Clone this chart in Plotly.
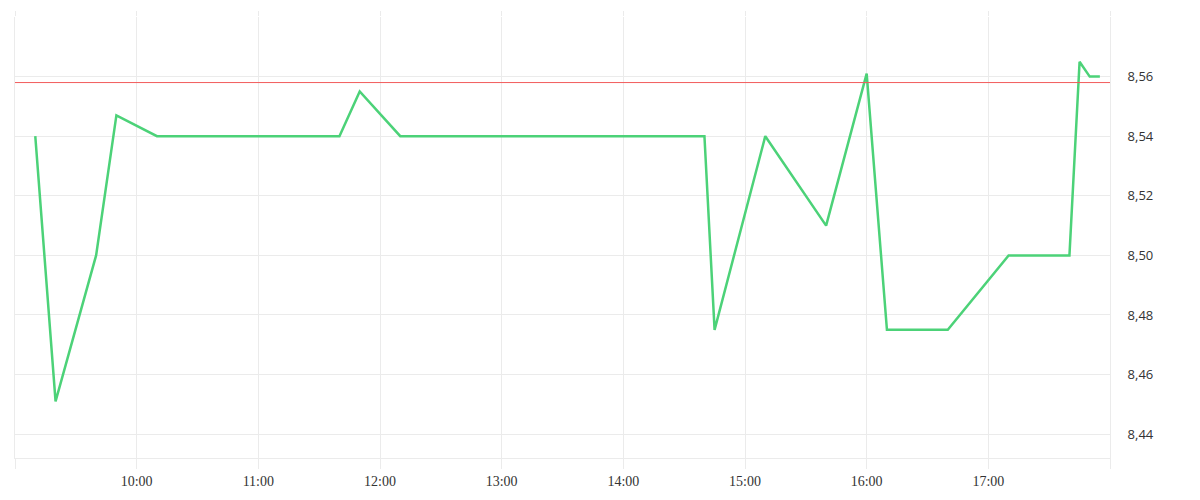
import plotly.graph_objects as go

day = "2024-01-02 "
times = ["09:10", "09:20", "09:40", "09:50", "10:10", "11:40", "11:50", "12:10",
         "14:40", "14:45", "15:10", "15:40", "16:00", "16:10", "16:40", "17:10",
         "17:40", "17:45", "17:50", "17:55"]
prices = [8.54, 8.451, 8.50, 8.547, 8.54, 8.54, 8.555, 8.54,
          8.54, 8.475, 8.54, 8.51, 8.561, 8.475, 8.475, 8.50,
          8.50, 8.565, 8.56, 8.56]
ref_price = 8.558

hour_ticks = ["09:00", "10:00", "11:00", "12:00", "13:00", "14:00", "15:00",
              "16:00", "17:00", "18:00"]
hour_labels = ["", "10:00", "11:00", "12:00", "13:00", "14:00", "15:00",
               "16:00", "17:00", ""]
y_ticks = [8.44, 8.46, 8.48, 8.50, 8.52, 8.54, 8.56, 8.58]
y_labels = ["8,44", "8,46", "8,48", "8,50", "8,52", "8,54", "8,56", ""]
y_range = [8.432, 8.58]

x = [day + t for t in times]
xt = [day + t for t in hour_ticks]
grid = "#ebebeb"

fig = go.Figure()
fig.add_trace(go.Scatter(x=x, y=prices, mode="lines",
                         line=dict(color="#4cd278", width=2.5),
                         hoverinfo="skip", showlegend=False))
# invisible trace so the top tick axis is drawn
fig.add_trace(go.Scatter(x=[xt[0], xt[-1]], y=y_range, mode="lines",
                         line=dict(width=0), xaxis="x2", yaxis="y",
                         hoverinfo="skip", showlegend=False, opacity=0))
fig.add_hline(y=ref_price, line=dict(color="#f25c5c", width=1))

fig.update_layout(
    width=1200, height=500,
    margin=dict(l=7, r=98, t=9, b=50),
    paper_bgcolor="white", plot_bgcolor="white",
    showlegend=False,
    xaxis=dict(range=[xt[0], xt[-1]], tickvals=xt, ticktext=hour_labels,
               showgrid=True, gridcolor=grid, gridwidth=1,
               ticks="outside", ticklen=10, tickcolor=grid, tickwidth=1,
               showline=True, linecolor=grid, linewidth=1,
               zeroline=False, automargin=False,
               tickfont=dict(family="Liberation Serif", size=14, color="#333")),
    xaxis2=dict(range=[xt[0], xt[-1]], overlaying="x", side="top",
                tickvals=xt, ticktext=["" for _ in xt], automargin=False,
                showgrid=False, ticks="outside", ticklen=5, tickcolor=grid,
                tickwidth=1, showline=False, zeroline=False),
    yaxis=dict(range=y_range, side="right", tickvals=y_ticks, ticktext=y_labels,
               showgrid=True, gridcolor=grid, gridwidth=1, zeroline=False,
               showline=True, mirror=True, linecolor=grid, linewidth=1,
               ticks="", ticklabelstandoff=14, automargin=False,
               tickfont=dict(family="Open Sans", size=13, color="#333")),
)

fig.write_html("out.html")
